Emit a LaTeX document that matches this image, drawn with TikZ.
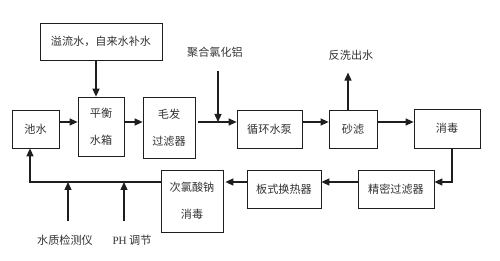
\documentclass[tikz,border=0pt]{standalone}
\usepackage{fontspec}
\setmainfont{Liberation Serif}
\newfontfamily\cjk{Noto Sans CJK SC}
\usetikzlibrary{arrows.meta,calc}
\definecolor{linegray}{HTML}{1E1E1E}
\definecolor{textgray}{HTML}{333333}

\begin{document}
\begin{tikzpicture}[>=Latex,
  box/.style={draw=linegray,line width=0.6pt,fill=white,align=center,inner sep=1pt,
    font=\cjk\fontsize{9.5}{23}\selectfont,text=textgray},
  lbl/.style={font=\cjk\fontsize{9.5}{11}\selectfont,text=textgray,inner sep=1pt},
  a/.style={-{Triangle[length=2.4mm,width=2.1mm]},line width=1.1pt,linegray}]
\useasboundingbox (0,0) rectangle (15,-7.83);
\coordinate (row) at (0,-3.66);
\coordinate (low) at (0,-5.46);

% upper row
\node[box,minimum width=3.66cm,minimum height=1.11cm] (bushui) at (3.03,-1.245) {溢流水，自来水补水};
\node[box,minimum width=1.41cm,minimum height=1.14cm] (chishui) at (1.065,-3.87) {池水};
\node[box,minimum width=1.38cm,minimum height=1.77cm] (pingheng) at (3.03,-3.795) {平衡\\水箱};
\node[box,minimum width=1.56cm,minimum height=1.83cm] (maofa) at (5.07,-3.825) {毛发\\过滤器};
\node[box,minimum width=1.95cm,minimum height=1.14cm] (xunhuan) at (8.085,-3.87) {循环水泵};
\node[box,minimum width=1.44cm,minimum height=1.14cm] (shalv) at (10.59,-3.87) {砂滤};
\node[box,minimum width=1.98cm,minimum height=1.17cm] (xiaodu) at (13.41,-3.855) {消毒};
\node[lbl] (pac) at (6.45,-1.56) {聚合氯化铝};
\node[lbl] (fanxi) at (10.53,-1.65) {反洗出水};

% lower row
\node[box,minimum width=2.28cm,minimum height=1.14cm] (jingmi) at (11.88,-5.67) {精密过滤器};
\node[box,minimum width=2.22cm,minimum height=1.14cm] (banshi) at (8.52,-5.67) {板式换热器};
\node[box,minimum width=1.86cm,minimum height=1.86cm] (cilv) at (5.76,-6.03) {次氯酸钠\\消毒};
\node[lbl] (shuizhi) at (1.95,-7.2) {水质检测仪};
\node[lbl] (ph) at (3.96,-7.2) {{\normalfont PH} 调节};

\draw[a] ([xshift=-0.15cm]bushui.south) -- ([xshift=-0.15cm]pingheng.north);
\draw[a] (chishui.east |- row) -- (pingheng.west |- row);
\draw[a] (pingheng.east |- row) -- (maofa.west |- row);
\draw[a,shorten <=0.09cm] (maofa.east |- row) -- (xunhuan.west |- row);
\draw[a] (xunhuan.east |- row) -- (shalv.west |- row);
\draw[a] (shalv.east |- row) -- (xiaodu.west |- row);
\draw[a,shorten <=0.36cm] ([xshift=0.09cm]pac.south) -- ([xshift=0.09cm]pac.south |- row);
\draw[a,shorten >=0.33cm] ([xshift=-0.15cm]shalv.north) -- ([xshift=-0.15cm]shalv.north |- fanxi.south);
\draw[a] ([xshift=0.15cm]xiaodu.south) |- (jingmi.east |- low);
\draw[a] (jingmi.west |- low) -- (banshi.east |- low);
\draw[a,shorten >=0.06cm] (banshi.west |- low) -- (cilv.east |- low);
\draw[a] (cilv.west |- low) -| ([xshift=-0.165cm]chishui.south);
\draw[a,shorten <=0.36cm] ([xshift=0.09cm]shuizhi.north) -- ([xshift=0.09cm]shuizhi.north |- low);
\draw[a,shorten <=0.36cm] ([xshift=-0.24cm]ph.north) -- ([xshift=-0.24cm]ph.north |- low);
\end{tikzpicture}
\end{document}
